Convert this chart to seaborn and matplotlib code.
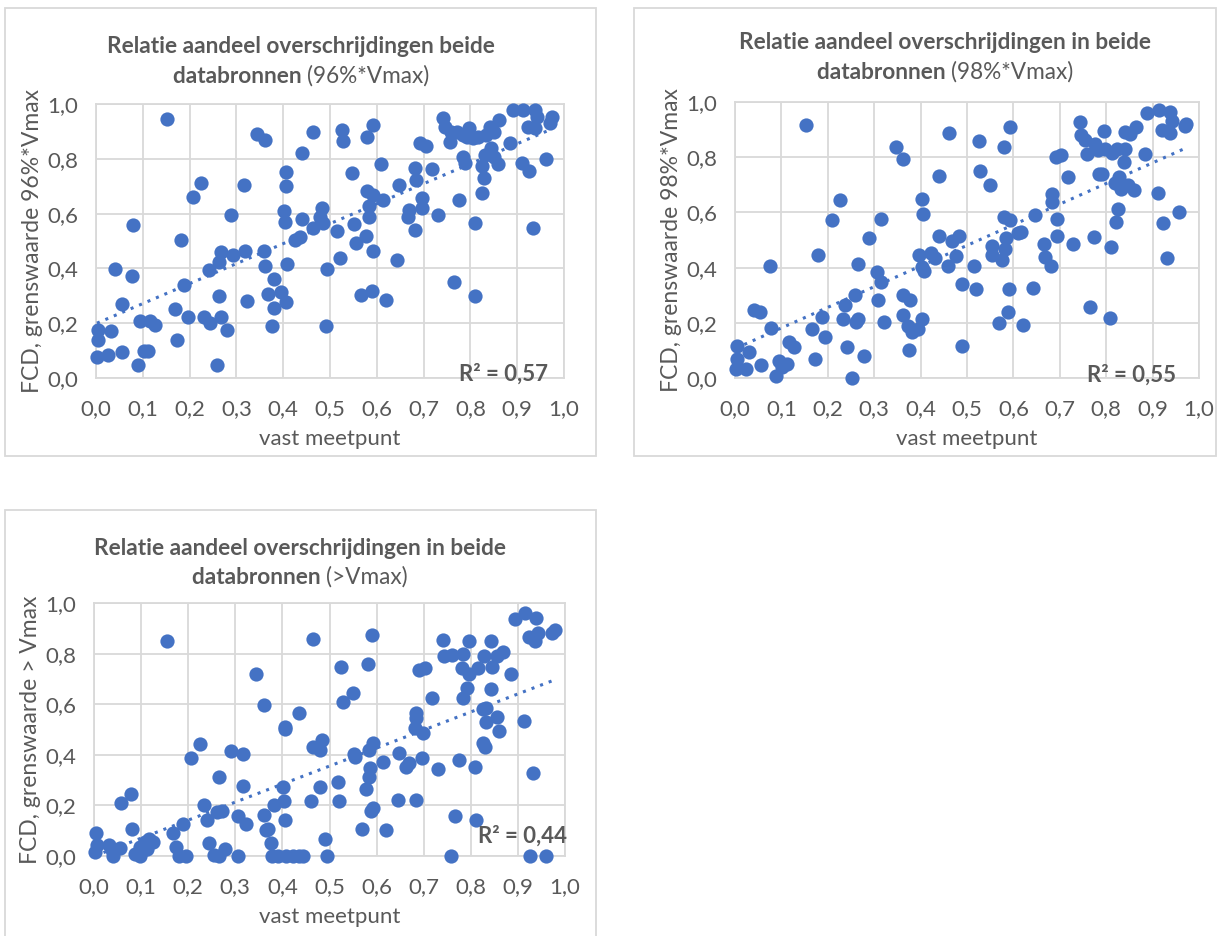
import numpy as np
import pandas as pd
import matplotlib.pyplot as plt
import seaborn as sns
from matplotlib.patches import Rectangle
from matplotlib.ticker import FuncFormatter, MultipleLocator

sns.set_style('white')
plt.rcParams['font.family'] = ['Lato', 'DejaVu Sans']

# --- data (fraction vast meetpunt vs FCD) ---
x_96 = [0.152, 0.345, 0.362, 0.464, 0.526, 0.528, 0.591, 0.579, 0.441, 0.609,
        0.548, 0.406, 0.407, 0.317, 0.225, 0.208, 0.289, 0.079, 0.401, 0.404,
        0.440, 0.483, 0.478, 0.464, 0.485, 0.426, 0.435, 0.181, 0.267, 0.263,
        0.241, 0.293, 0.318, 0.360, 0.362, 0.381, 0.408, 0.367, 0.395, 0.406,
        0.380, 0.377, 0.322, 0.262, 0.188, 0.040, 0.077, 0.055, 0.169, 0.196,
        0.231, 0.244, 0.268, 0.279, 0.173, 0.094, 0.115, 0.127, 0.004, 0.004,
        0.032, 0.002, 0.026, 0.055, 0.102, 0.112, 0.090, 0.258, 0.491, 0.493,
        0.516, 0.522, 0.551, 0.556, 0.576, 0.580, 0.591, 0.584, 0.584, 0.591,
        0.566, 0.589, 0.620, 0.613, 0.643, 0.647, 0.666, 0.669, 0.682, 0.682,
        0.684, 0.692, 0.705, 0.697, 0.697, 0.717, 0.730, 0.742, 0.746, 0.759,
        0.757, 0.771, 0.784, 0.796, 0.792, 0.805, 0.817, 0.834, 0.841, 0.850,
        0.862, 0.784, 0.788, 0.776, 0.766, 0.810, 0.810, 0.825, 0.828, 0.825,
        0.832, 0.844, 0.850, 0.859, 0.884, 0.892, 0.913, 0.938, 0.942, 0.923,
        0.938, 0.910, 0.925, 0.961, 0.933, 0.975, 0.971]
y_96 = [0.945, 0.891, 0.869, 0.897, 0.905, 0.865, 0.923, 0.881, 0.820, 0.781,
        0.747, 0.751, 0.699, 0.705, 0.713, 0.660, 0.595, 0.558, 0.608, 0.571,
        0.580, 0.620, 0.589, 0.547, 0.565, 0.504, 0.516, 0.504, 0.459, 0.425,
        0.395, 0.450, 0.462, 0.462, 0.407, 0.361, 0.417, 0.306, 0.313, 0.279,
        0.255, 0.188, 0.282, 0.301, 0.338, 0.399, 0.373, 0.271, 0.253, 0.222,
        0.222, 0.200, 0.222, 0.176, 0.137, 0.207, 0.207, 0.194, 0.176, 0.140,
        0.170, 0.077, 0.085, 0.095, 0.097, 0.100, 0.046, 0.046, 0.188, 0.399,
        0.537, 0.437, 0.561, 0.492, 0.520, 0.684, 0.668, 0.589, 0.626, 0.464,
        0.304, 0.316, 0.286, 0.650, 0.429, 0.705, 0.589, 0.614, 0.541, 0.765,
        0.723, 0.857, 0.848, 0.656, 0.620, 0.762, 0.595, 0.948, 0.917, 0.899,
        0.863, 0.899, 0.887, 0.914, 0.881, 0.875, 0.881, 0.887, 0.917, 0.899,
        0.942, 0.808, 0.786, 0.650, 0.350, 0.567, 0.301, 0.674, 0.729, 0.772,
        0.814, 0.838, 0.808, 0.781, 0.857, 0.978, 0.978, 0.978, 0.954, 0.917,
        0.911, 0.786, 0.757, 0.800, 0.547, 0.954, 0.932]

x_98 = [0.153, 0.346, 0.361, 0.462, 0.525, 0.592, 0.579, 0.439, 0.527, 0.549,
        0.404, 0.406, 0.226, 0.208, 0.315, 0.288, 0.179, 0.075, 0.265, 0.305,
        0.315, 0.309, 0.258, 0.238, 0.233, 0.265, 0.261, 0.321, 0.242, 0.279,
        0.253, 0.187, 0.194, 0.167, 0.172, 0.077, 0.040, 0.053, 0.055, 0.031,
        0.004, 0.004, 0.002, 0.024, 0.089, 0.095, 0.101, 0.113, 0.117, 0.127,
        0.361, 0.378, 0.361, 0.372, 0.381, 0.394, 0.404, 0.376, 0.397, 0.402,
        0.408, 0.422, 0.432, 0.439, 0.459, 0.467, 0.477, 0.483, 0.490, 0.490,
        0.515, 0.519, 0.553, 0.553, 0.576, 0.568, 0.588, 0.591, 0.579, 0.593,
        0.584, 0.582, 0.610, 0.616, 0.620, 0.642, 0.646, 0.665, 0.669, 0.681,
        0.683, 0.683, 0.695, 0.695, 0.691, 0.703, 0.717, 0.729, 0.743, 0.745,
        0.755, 0.758, 0.775, 0.782, 0.796, 0.798, 0.812, 0.824, 0.840, 0.838,
        0.840, 0.852, 0.864, 0.784, 0.790, 0.774, 0.766, 0.810, 0.808, 0.820,
        0.828, 0.832, 0.848, 0.860, 0.826, 0.821, 0.883, 0.889, 0.913, 0.937,
        0.941, 0.921, 0.937, 0.911, 0.923, 0.930, 0.957, 0.973, 0.969]
y_98 = [0.915, 0.837, 0.792, 0.888, 0.857, 0.909, 0.837, 0.732, 0.750, 0.698,
        0.649, 0.595, 0.646, 0.573, 0.577, 0.508, 0.447, 0.405, 0.414, 0.383,
        0.349, 0.281, 0.302, 0.266, 0.214, 0.214, 0.202, 0.204, 0.111, 0.081,
        0.000, 0.220, 0.150, 0.178, 0.069, 0.181, 0.247, 0.238, 0.048, 0.093,
        0.117, 0.069, 0.033, 0.033, 0.008, 0.063, 0.041, 0.051, 0.129, 0.111,
        0.299, 0.284, 0.229, 0.190, 0.166, 0.178, 0.214, 0.103, 0.447, 0.401,
        0.389, 0.453, 0.435, 0.516, 0.407, 0.498, 0.441, 0.514, 0.339, 0.117,
        0.407, 0.323, 0.478, 0.444, 0.426, 0.198, 0.238, 0.323, 0.585, 0.573,
        0.508, 0.468, 0.525, 0.528, 0.193, 0.326, 0.589, 0.486, 0.438, 0.404,
        0.667, 0.637, 0.577, 0.516, 0.800, 0.807, 0.728, 0.486, 0.927, 0.879,
        0.861, 0.810, 0.849, 0.827, 0.895, 0.831, 0.815, 0.831, 0.831, 0.782,
        0.891, 0.885, 0.909, 0.740, 0.738, 0.510, 0.259, 0.476, 0.216, 0.706,
        0.728, 0.686, 0.698, 0.680, 0.613, 0.565, 0.810, 0.960, 0.970, 0.964,
        0.931, 0.897, 0.889, 0.671, 0.561, 0.435, 0.603, 0.921, 0.913]

x_max = [0.155, 0.345, 0.361, 0.465, 0.525, 0.529, 0.550, 0.591, 0.581, 0.436,
         0.405, 0.405, 0.225, 0.207, 0.291, 0.316, 0.316, 0.266, 0.233, 0.240,
         0.262, 0.272, 0.306, 0.323, 0.244, 0.254, 0.265, 0.279, 0.306, 0.188,
         0.167, 0.175, 0.181, 0.196, 0.078, 0.057, 0.080, 0.004, 0.006, 0.002,
         0.031, 0.039, 0.041, 0.055, 0.087, 0.097, 0.097, 0.105, 0.109, 0.116,
         0.126, 0.113, 0.361, 0.365, 0.369, 0.375, 0.382, 0.403, 0.401, 0.405,
         0.378, 0.390, 0.407, 0.423, 0.436, 0.444, 0.461, 0.465, 0.480, 0.484,
         0.479, 0.490, 0.494, 0.519, 0.521, 0.552, 0.554, 0.568, 0.577, 0.583,
         0.586, 0.583, 0.593, 0.588, 0.593, 0.614, 0.620, 0.645, 0.647, 0.663,
         0.669, 0.684, 0.684, 0.684, 0.682, 0.699, 0.696, 0.691, 0.703, 0.717,
         0.730, 0.758, 0.767, 0.742, 0.744, 0.760, 0.783, 0.782, 0.796, 0.797,
         0.792, 0.783, 0.775, 0.808, 0.810, 0.816, 0.827, 0.825, 0.833, 0.825,
         0.830, 0.833, 0.843, 0.845, 0.843, 0.856, 0.868, 0.856, 0.860, 0.885,
         0.893, 0.916, 0.939, 0.914, 0.926, 0.959, 0.931, 0.924, 0.936, 0.943,
         0.972, 0.978]
y_max = [0.851, 0.719, 0.597, 0.859, 0.746, 0.608, 0.643, 0.872, 0.760, 0.564,
         0.502, 0.509, 0.441, 0.388, 0.416, 0.403, 0.276, 0.313, 0.201, 0.144,
         0.172, 0.177, 0.157, 0.128, 0.053, 0.003, 0.000, 0.029, 0.000, 0.125,
         0.091, 0.036, 0.000, 0.000, 0.247, 0.210, 0.108, 0.091, 0.042, 0.016,
         0.042, 0.025, 0.000, 0.032, 0.009, 0.000, 0.036, 0.022, 0.055, 0.069,
         0.055, 0.029, 0.161, 0.102, 0.108, 0.053, 0.201, 0.217, 0.273, 0.144,
         0.000, 0.000, 0.000, 0.000, 0.000, 0.000, 0.217, 0.432, 0.419, 0.458,
         0.271, 0.069, 0.000, 0.293, 0.218, 0.402, 0.390, 0.106, 0.263, 0.313,
         0.346, 0.419, 0.448, 0.177, 0.190, 0.373, 0.102, 0.221, 0.406, 0.353,
         0.369, 0.221, 0.544, 0.564, 0.507, 0.487, 0.388, 0.736, 0.742, 0.626,
         0.342, 0.000, 0.157, 0.855, 0.789, 0.793, 0.798, 0.742, 0.720, 0.851,
         0.666, 0.626, 0.379, 0.353, 0.144, 0.742, 0.789, 0.581, 0.584, 0.445,
         0.429, 0.531, 0.851, 0.749, 0.659, 0.789, 0.808, 0.548, 0.494, 0.719,
         0.938, 0.960, 0.941, 0.534, 0.000, 0.000, 0.329, 0.864, 0.848, 0.881,
         0.881, 0.894]

ylabels = ['FCD, grenswaarde 96%*Vmax', 'FCD, grenswaarde 98%*Vmax', 'FCD, grenswaarde > Vmax']
title_line1 = ['Relatie aandeel overschrijdingen beide',
               'Relatie aandeel overschrijdingen in beide',
               'Relatie aandeel overschrijdingen in beide']
title_bold2 = 'databronnen'
title_norm2 = ['(96%*Vmax)', '(98%*Vmax)', '(>Vmax)']
r2_labels = ['R² = 0,57', 'R² = 0,55', 'R² = 0,44']

blue = '#4472C4'
grey_txt = '#595959'
grid_col = '#d9d9d9'

W, H = 1219, 936
fig = plt.figure(figsize=(W / 100, H / 100), dpi=100)


def px(x, y):
    # pixel position (from top-left) -> figure fraction
    return x / W, 1 - y / H


def comma(v, pos):
    return f'{v:.1f}'.replace('.', ',')


# chart frames
for (x0, y0, x1, y1) in [(5, 8, 596, 456), (634, 8, 1216, 456), (5, 510, 596, 940)]:
    fig.patches.append(Rectangle((x0 / W, 1 - y1 / H), (x1 - x0) / W, (y1 - y0) / H,
                                 transform=fig.transFigure, fill=False,
                                 edgecolor=grid_col, lw=1.3))

# axes boxes in pixels: left, top, right, bottom
boxes = [(96, 104, 564, 378), (735, 102, 1199, 378), (94, 603, 565, 856)]
datasets = [(x_96, y_96), (x_max, y_max)]
datasets = [(x_96, y_96), (x_98, y_98), (x_max, y_max)]
title_pos = [(301, 53, 83), (945, 49, 79), (300, 555, 584)]
r2_pos = [(548, 381), (1176, 382), (567, 843)]

renderer = fig.canvas.get_renderer()

for i in range(3):
    l, t, r, b = boxes[i]
    ax = fig.add_axes([l / W, 1 - b / H, (r - l) / W, (b - t) / H])
    df = pd.DataFrame({'x': datasets[i][0], 'y': datasets[i][1]})

    sns.scatterplot(data=df, x='x', y='y', ax=ax, color=blue, s=105,
                    linewidth=0, clip_on=False, zorder=3)
    sns.regplot(data=df, x='x', y='y', ax=ax, scatter=False, ci=None,
                line_kws=dict(color=blue, ls=(0, (1, 2)), lw=2.2, zorder=4))

    ax.set_xlim(0, 1)
    ax.set_ylim(0, 1)
    ax.xaxis.set_major_locator(MultipleLocator(0.1))
    ax.yaxis.set_major_locator(MultipleLocator(0.2))
    ax.xaxis.set_major_formatter(FuncFormatter(comma))
    ax.yaxis.set_major_formatter(FuncFormatter(comma))
    ax.grid(True, color=grid_col, lw=1.3)
    ax.set_axisbelow(True)
    for s in ax.spines.values():
        s.set_color(grid_col)
        s.set_linewidth(1.3)
    ax.tick_params(length=0, labelsize=16, labelcolor=grey_txt)
    ax.tick_params(axis='x', pad=15)
    ax.tick_params(axis='y', pad=13)
    ax.set_xlabel('vast meetpunt', fontsize=16, color=grey_txt, labelpad=7)
    ax.set_ylabel(ylabels[i], fontsize=16.5, color=grey_txt, labelpad=3)

    # R squared label
    rx, ry = r2_pos[i]
    fig.text(*px(rx, ry), r2_labels[i], ha='right', va='baseline',
             fontsize=16, weight='bold', color=grey_txt, zorder=10)

    # two-line title, second line mixes bold and regular
    cx, b1, b2 = title_pos[i]
    fig.text(*px(cx, b1), title_line1[i], ha='center', va='baseline',
             fontsize=16.3, weight='bold', color=grey_txt)
    t1 = fig.text(0, px(0, b2)[1], title_bold2 + ' ', ha='left', va='baseline',
                  fontsize=16.3, weight='bold', color=grey_txt)
    t2 = fig.text(0, px(0, b2)[1], title_norm2[i], ha='left', va='baseline',
                  fontsize=16.3, color=grey_txt)
    w1 = t1.get_window_extent(renderer).width
    w2 = t2.get_window_extent(renderer).width
    left = cx - (w1 + w2) / 2
    t1.set_x(left / W)
    t2.set_x((left + w1) / W)

fig.savefig('out.png', dpi=100, facecolor='white')
